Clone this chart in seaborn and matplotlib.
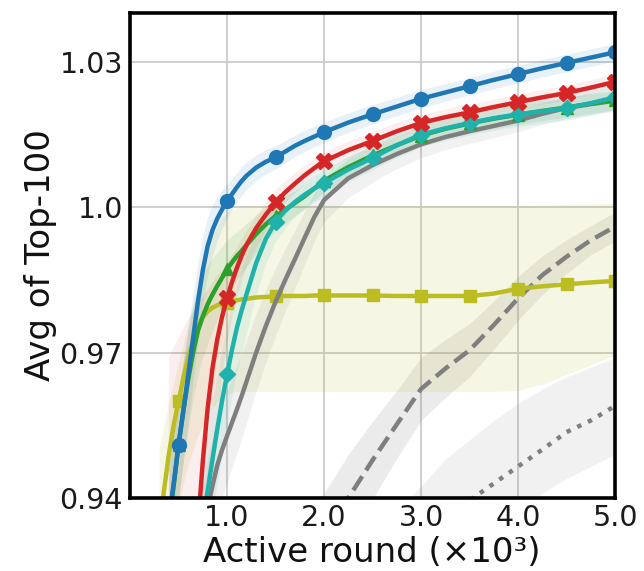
import numpy as np
import pandas as pd
import matplotlib
matplotlib.use("Agg")
import matplotlib.pyplot as plt
import seaborn as sns

N = np.nan

# Active rounds (x 10^3): fine steps where the curves rise steeply
rounds = [0.3, 0.35, 0.4, 0.45, 0.5, 0.55, 0.6, 0.65, 0.7, 0.75, 0.8, 0.85, 0.9, 0.95,
          1.0, 1.05, 1.1, 1.15, 1.2,
          1.3, 1.4, 1.5, 1.6, 1.7, 1.8, 1.9, 2.0,
          2.25, 2.5, 2.75, 3.0, 3.25, 3.5, 3.75, 4.0, 4.25, 4.5, 4.75, 5.0]

# Mean of the top-100 scores per method
blue_mean = ([N, N, 0.9355, 0.943, 0.951, 0.958, 0.9655, 0.973, 0.9805, 0.987, 0.992,
              0.9953, 0.9977, 0.9996, 1.0012, 1.0027, 1.0041, 1.0054, 1.0065]
             + [1.0082, 1.0094, 1.0103, 1.0115, 1.0127, 1.0137, 1.0146, 1.0155]
             + [1.0175, 1.0192, 1.0208, 1.0224, 1.0237, 1.025, 1.0263, 1.0275, 1.0287,
                1.0298, 1.0309, 1.032])
red_mean = ([N, N, 0.83, 0.845, 0.86, 0.875, 0.89, 0.912, 0.934, 0.9475, 0.9585, 0.9668,
             0.9728, 0.9775, 0.9812, 0.9845, 0.9874, 0.990, 0.9922]
            + [0.9957, 0.9985, 1.001, 1.0031, 1.0049, 1.0066, 1.0081, 1.0095]
            + [1.0118, 1.0137, 1.0157, 1.0174, 1.0186, 1.0196, 1.0207, 1.0217, 1.0227,
               1.0236, 1.0247, 1.0259])
green_mean = ([N, N, 0.934, 0.9425, 0.951, 0.958, 0.9645, 0.970, 0.9745, 0.9775, 0.980,
               0.982, 0.9838, 0.9855, 0.9872, 0.9886, 0.9899, 0.991, 0.9922]
              + [0.9945, 0.9965, 0.9982, 0.9995, 1.0009, 1.0023, 1.0039, 1.0055]
              + [1.0083, 1.0107, 1.0128, 1.0148, 1.0162, 1.0173, 1.0183, 1.0191, 1.0199,
                 1.0206, 1.0214, 1.0221])
teal_mean = ([N, N, N, N, N, N, N, N, 0.929, 0.935, 0.9415, 0.948, 0.9543, 0.9602, 0.9655,
              0.9705, 0.975, 0.9787, 0.982]
             + [0.9885, 0.9935, 0.997, 0.9993, 1.0011, 1.0026, 1.0039, 1.0050]
             + [1.0078, 1.0102, 1.0128, 1.0150, 1.0163, 1.0174, 1.0184, 1.0192, 1.0198,
                1.0205, 1.0215, 1.0227])
gray_mean = ([N, N, N, N, N, N, N, N, N, 0.933, 0.938, 0.9425, 0.9468, 0.950, 0.9528,
              0.9555, 0.9582, 0.961, 0.964]
             + [0.970, 0.9755, 0.9805, 0.985, 0.9893, 0.9937, 0.998, 1.0015]
             + [1.006, 1.0087, 1.011, 1.013, 1.0145, 1.0157, 1.0168, 1.0179, 1.0193,
                1.0205, 1.0213, 1.022])
olive_mean = ([0.932, 0.9415, 0.949, 0.955, 0.960, 0.9648, 0.969, 0.9725, 0.9753, 0.9773,
               0.9785, 0.9793, 0.9798, 0.9801, 0.9803, 0.9806, 0.9808, 0.981, 0.9811]
              + [0.9814, 0.9815, 0.9816, 0.9817, 0.9817, 0.9817, 0.9818, 0.9818]
              + [0.9818, 0.9818, 0.9817, 0.9817, 0.9817, 0.9817, 0.9822, 0.9832, 0.9837,
                 0.9841, 0.9845, 0.9848])
dashed_mean = ([N] * 23 + [0.921, 0.924, 0.9275, 0.931]
               + [0.940, 0.9478, 0.9552, 0.9625, 0.9667, 0.9705, 0.9757, 0.9812, 0.986,
                  0.9898, 0.9932, 0.996])
dotted_mean = [N] * 30 + [0.933, 0.9365, 0.9395, 0.943, 0.9465, 0.950, 0.9536, 0.956, 0.959]

# Half-widths of the shaded spread
blue_spread = ([N, N, 0.012, 0.0115, 0.011, 0.0105, 0.010, 0.009, 0.008, 0.007, 0.006,
                0.0052, 0.0045, 0.004, 0.0035, 0.0032, 0.003, 0.0029, 0.0028]
               + [0.0026, 0.0025, 0.0024, 0.0023, 0.0022, 0.0022, 0.0021, 0.0021]
               + [0.002, 0.002, 0.0019, 0.0019, 0.0018, 0.0018, 0.0018, 0.0018, 0.0018,
                  0.0018, 0.0018, 0.0018])
green_spread = ([N, N, 0.012, 0.0115, 0.011, 0.0105, 0.010, 0.0095, 0.009, 0.0085, 0.008,
                 0.0075, 0.007, 0.0065, 0.006, 0.0055, 0.005, 0.0047, 0.0045]
                + [0.004, 0.0035, 0.003, 0.0028, 0.0026, 0.0025, 0.0024, 0.0023]
                + [0.0022, 0.0021, 0.002, 0.002, 0.002, 0.002, 0.002, 0.002, 0.002,
                   0.002, 0.002, 0.002])
teal_spread = ([N, N, N, N, N, N, N, N, 0.012, 0.012, 0.012, 0.0115, 0.011, 0.0105, 0.010,
                0.0095, 0.009, 0.0085, 0.008]
               + [0.0065, 0.005, 0.004, 0.0035, 0.003, 0.003, 0.0028, 0.0027]
               + [0.0026, 0.0025, 0.0025, 0.0025, 0.0025, 0.0025, 0.0025, 0.0025, 0.0025,
                  0.0025, 0.0025, 0.0025])
gray_spread = ([N, N, N, N, N, N, N, N, N, 0.010, 0.010, 0.010, 0.010, 0.0098, 0.0095,
                0.0092, 0.009, 0.0088, 0.0085]
               + [0.008, 0.0075, 0.007, 0.0065, 0.006, 0.0055, 0.005, 0.0045]
               + [0.004, 0.0035, 0.003, 0.0028, 0.0026, 0.0025, 0.0024, 0.0023, 0.0022,
                  0.0022, 0.0022, 0.0022])
dashed_spread = ([N] * 23 + [0.010, 0.010, 0.010, 0.010]
                 + [0.009, 0.008, 0.007, 0.0065, 0.006, 0.0055, 0.005, 0.0045, 0.004,
                    0.0035, 0.003, 0.003])

# Asymmetric bands
red_lo = ([N, N, 0.70, 0.72, 0.75, 0.78, 0.80, 0.83, 0.86, 0.89, 0.92, 0.942, 0.955, 0.965,
           0.9715, 0.977, 0.981, 0.9845, 0.9875]
          + [0.9915, 0.995, 0.9985, 1.0008, 1.0028, 1.0047, 1.0063, 1.0078]
          + [1.0101, 1.0119, 1.014, 1.0158, 1.017, 1.018, 1.0192, 1.0202, 1.0212, 1.0221,
             1.0232, 1.0244])
red_hi = ([N, N, 0.969, 0.971, 0.973, 0.975, 0.977, 0.9785, 0.980, 0.9815, 0.983, 0.9845,
           0.986, 0.987, 0.9885, 0.990, 0.9915, 0.9933, 0.995]
          + [0.998, 1.0008, 1.0035, 1.0053, 1.007, 1.0085, 1.0099, 1.0112]
          + [1.0135, 1.0155, 1.0174, 1.019, 1.0202, 1.0212, 1.0222, 1.0232, 1.0242, 1.0251,
             1.0262, 1.0274])
olive_lo = ([0.905, 0.915, 0.925, 0.932, 0.938, 0.943, 0.947, 0.950, 0.953, 0.955, 0.957,
             0.9585, 0.960, 0.961, 0.9615, 0.9618, 0.962, 0.962, 0.962]
            + [0.962] * 8
            + [0.962, 0.962, 0.962, 0.962, 0.962, 0.962, 0.962, 0.9622, 0.9635, 0.9655,
               0.9675, 0.9695])
olive_hi = ([0.950, 0.955, 0.960, 0.964, 0.968, 0.972, 0.976, 0.980, 0.984, 0.988, 0.991,
             0.994, 0.996, 0.998, 0.999, 0.9995, 1.0, 1.0002, 1.0004]
            + [1.0004] * 8
            + [1.0004, 1.0004, 1.0004, 1.0004, 1.0004, 1.0004, 1.0004, 1.0004, 1.0005,
               1.0006, 1.0007, 1.0008])
dotted_lo = [N] * 28 + [0.918, 0.922, 0.925, 0.928, 0.931, 0.935, 0.938, 0.941, 0.944,
                        0.9465, 0.949]
dotted_hi = [N] * 28 + [0.932, 0.937, 0.9425, 0.948, 0.952, 0.956, 0.9595, 0.9625, 0.965,
                        0.967, 0.969]

x_ticks = [1.0, 2.0, 3.0, 4.0, 5.0]
x_tick_labels = ["1.0", "2.0", "3.0", "4.0", "5.0"]
y_ticks = [0.94, 0.97, 1.0, 1.03]
y_tick_labels = ["0.94", "0.97", "1.0", "1.03"]

sns.set_theme(style="whitegrid")
plt.rcParams["font.family"] = ["DejaVu Sans"]

fig = plt.figure(figsize=(6.44, 5.71), dpi=100)
ax = fig.add_axes([0.2019, 0.1278, 0.7531, 0.8494])
ax.set_facecolor("white")

x = np.array(rounds)


def band(lo, hi, color, alpha, z):
    lo = np.array(lo, dtype=float)
    hi = np.array(hi, dtype=float)
    ok = ~(np.isnan(lo) | np.isnan(hi))
    ax.fill_between(x[ok], lo[ok], hi[ok], color=color, alpha=alpha, lw=0, zorder=z)


def sym_band(mean, spread, color, alpha, z):
    m = np.array(mean, dtype=float)
    s = np.array(spread, dtype=float)
    band(m - s, m + s, color, alpha, z)


def curve(mean, color, z, marker=None, ms=9, ls="-"):
    m = np.array(mean, dtype=float)
    ok = ~np.isnan(m)
    df = pd.DataFrame({"round": x[ok], "value": m[ok]})
    kws = dict(color=color, lw=3.2, linestyle=ls, zorder=z, errorbar=None, sort=False)
    if marker is not None:
        every = [i for i, r in enumerate(df["round"]) if abs(r * 2 - round(r * 2)) < 1e-9]
        kws.update(marker=marker, markersize=ms, markevery=every,
                   markeredgecolor=color, markeredgewidth=1.0)
    sns.lineplot(data=df, x="round", y="value", ax=ax, **kws)


blue = "#1f77b4"
red = "#d62728"
green = "#2ca02c"
teal = "#20b2aa"
gray = "#7f7f7f"
olive = "#bcbd22"

# Shaded spreads
band(dotted_lo, dotted_hi, gray, 0.10, 1.0)
sym_band(dashed_mean, dashed_spread, gray, 0.15, 1.05)
band(olive_lo, olive_hi, olive, 0.12, 1.1)
sym_band(gray_mean, gray_spread, gray, 0.10, 1.15)
sym_band(green_mean, green_spread, green, 0.10, 1.2)
sym_band(teal_mean, teal_spread, teal, 0.10, 1.25)
band(red_lo, red_hi, red, 0.08, 1.3)
sym_band(blue_mean, blue_spread, blue, 0.10, 1.35)

# Mean curves
curve(dotted_mean, gray, 2.0, ls=":")
curve(dashed_mean, gray, 2.05, ls="--")
curve(olive_mean, olive, 2.1, marker="s", ms=9)
curve(gray_mean, gray, 2.15)
curve(green_mean, green, 2.2, marker="^", ms=9)
curve(teal_mean, teal, 2.25, marker="D", ms=8)
curve(red_mean, red, 2.3, marker="X", ms=11)
curve(blue_mean, blue, 2.35, marker="o", ms=10)

ax.set_xlim(0, 5.0)
ax.set_ylim(0.94, 1.0401)
ax.set_xticks(x_ticks)
ax.set_xticklabels(x_tick_labels)
ax.set_yticks(y_ticks)
ax.set_yticklabels(y_tick_labels)
ax.tick_params(axis="both", labelsize=20.5, labelcolor="#1a1a1a", length=0)
ax.tick_params(axis="x", pad=4)
ax.tick_params(axis="y", pad=5)

ax.grid(True, color="#cccccc", lw=1.3)
ax.set_axisbelow(True)
for sp in ax.spines.values():
    sp.set_visible(True)
    sp.set_color("black")
    sp.set_linewidth(2.6)
    sp.set_zorder(5)

ax.set_xlabel("Active round (×10³)", fontsize=24.5, color="#111111")
ax.xaxis.set_label_coords(0.499, -0.079)
ax.set_ylabel("Avg of Top-100", fontsize=24.5, color="#111111", labelpad=2)

fig.savefig("out.png", dpi=100)
